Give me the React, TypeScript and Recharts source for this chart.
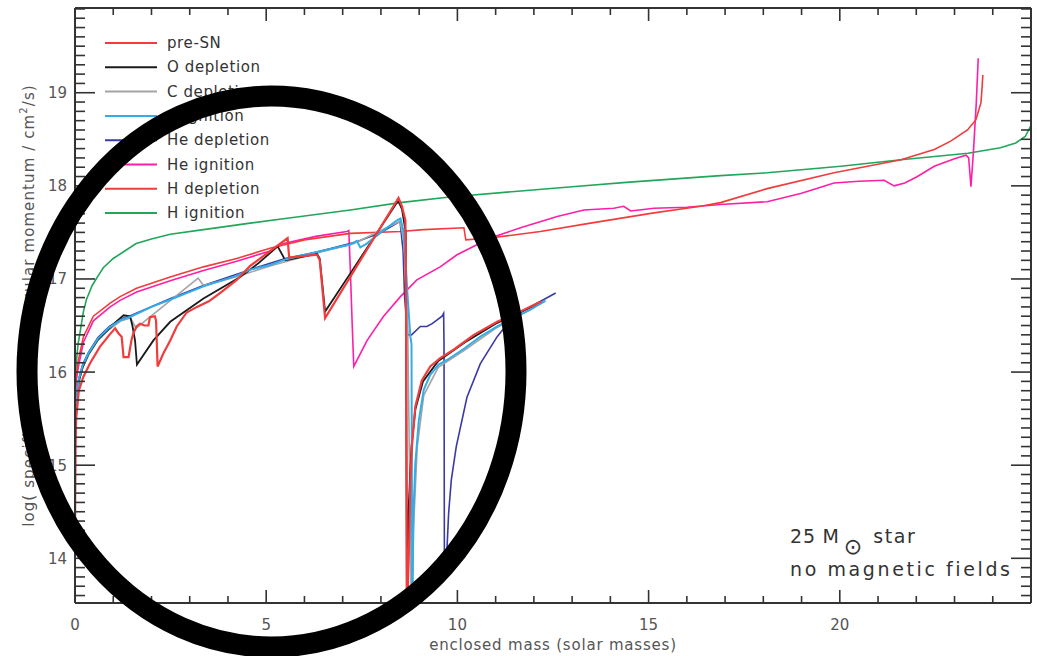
import React from 'react';
import { LineChart, Line, XAxis, YAxis, Legend, Label } from 'recharts';

type P = [number, number];

// ---- data (enclosed mass in solar masses, log specific angular momentum) ----
const H_IGNITION: P[] = [
  [0, 15.7], [0.02, 16.0], [0.04, 16.13], [0.08, 16.3], [0.13, 16.42], [0.22, 16.65], [0.3, 16.78],
  [0.45, 16.93], [0.6, 17.03], [0.74, 17.12], [1.0, 17.22], [1.3, 17.3], [1.6, 17.38], [2.0, 17.43],
  [2.49, 17.48], [3.36, 17.53], [4.58, 17.6], [5.5, 17.65], [7.2, 17.74], [8.5, 17.82], [9.8, 17.88],
  [11.5, 17.94], [13.0, 17.99], [14.5, 18.04], [16.88, 18.11], [18.1, 18.14], [20.03, 18.21],
  [21.6, 18.28], [23.35, 18.35], [24.2, 18.41], [24.6, 18.46], [24.85, 18.53], [25.0, 18.65],
];

const H_DEPLETION: P[] = [
  [0, 15.5], [0.01, 15.8], [0.03, 15.95], [0.09, 16.13], [0.22, 16.38], [0.48, 16.6], [0.92, 16.74],
  [1.18, 16.81], [1.61, 16.9], [2.49, 17.02], [3.36, 17.13], [4.23, 17.22], [5.1, 17.33], [6.0, 17.42],
  [7.2, 17.49], [8.51, 17.51], [9.12, 17.53], [10.17, 17.55], [10.22, 17.42], [10.86, 17.44],
  [12.17, 17.51], [13.48, 17.6], [15.14, 17.71], [16.36, 17.78], [16.88, 17.82], [18.1, 17.97],
  [19.85, 18.14], [21.6, 18.28], [22.47, 18.39], [22.9, 18.48], [23.34, 18.6], [23.56, 18.71],
  [23.69, 18.89], [23.72, 19.05], [23.74, 19.19],
];

const HE_IGNITION: P[] = [
  [0, 15.4], [0.01, 15.7], [0.03, 15.9], [0.09, 16.06], [0.22, 16.32], [0.48, 16.55], [0.92, 16.7],
  [1.18, 16.77], [1.61, 16.86], [2.49, 16.98], [3.36, 17.09], [4.23, 17.19], [5.1, 17.3], [5.45, 17.38],
  [6.33, 17.46], [7.11, 17.51], [7.16, 17.52], [7.2, 17.1], [7.25, 16.5], [7.29, 16.06], [7.64, 16.34],
  [8.07, 16.6], [8.51, 16.81], [8.94, 16.99], [9.55, 17.13], [9.99, 17.26], [10.86, 17.44],
  [11.65, 17.55], [12.61, 17.67], [13.31, 17.74], [14.09, 17.76], [14.35, 17.78], [14.53, 17.73],
  [15.14, 17.76], [16.0, 17.77], [16.88, 17.8], [18.1, 17.83], [19.0, 17.92], [19.85, 18.03],
  [20.5, 18.05], [21.16, 18.06], [21.42, 18.0], [21.7, 18.03], [22.03, 18.1], [22.47, 18.21],
  [23.0, 18.29], [23.3, 18.33], [23.37, 18.3], [23.43, 17.99], [23.5, 18.4], [23.57, 18.9], [23.62, 19.37],
];

const HE_DEPLETION: P[] = [
  [0, 15.3], [0.03, 15.65], [0.1, 15.93], [0.2, 16.08], [0.35, 16.21], [0.6, 16.37], [0.9, 16.49],
  [1.2, 16.57], [1.48, 16.61], [2.5, 16.79], [3.36, 16.93], [4.58, 17.1], [5.5, 17.22], [6.33, 17.29],
  [7.37, 17.4], [8.0, 17.5], [8.5, 17.62], [8.58, 17.3], [8.62, 16.8], [8.7, 16.4], [8.8, 16.4],
  [9.03, 16.49], [9.2, 16.49], [9.34, 16.52], [9.6, 16.6], [9.64, 16.63], [9.65, 16.3], [9.66, 13.9],
  [9.73, 14.12], [9.77, 14.48], [9.84, 14.84], [9.97, 15.2], [10.25, 15.73], [10.6, 16.09],
  [11.04, 16.38], [11.47, 16.6], [12.0, 16.72], [12.57, 16.85],
];

const C_IGNITION: P[] = [
  [0, 15.3], [0.03, 15.65], [0.1, 15.92], [0.2, 16.07], [0.35, 16.2], [0.6, 16.36], [0.9, 16.48],
  [1.2, 16.56], [1.48, 16.6], [2.0, 16.7], [2.5, 16.78], [3.36, 16.92], [4.2, 17.03], [4.58, 17.1],
  [5.1, 17.15], [5.5, 17.21], [6.33, 17.29], [7.2, 17.37], [7.37, 17.41], [7.46, 17.34], [7.63, 17.38],
  [8.0, 17.5], [8.42, 17.63], [8.51, 17.65], [8.6, 17.5], [8.7, 16.8], [8.77, 16.38], [8.8, 16.3],
  [8.82, 13.3], [8.85, 14.48], [8.9, 15.02], [8.99, 15.48], [9.12, 15.81], [9.29, 15.97], [9.51, 16.08],
  [9.73, 16.13], [10.17, 16.25], [10.6, 16.38], [11.04, 16.49], [11.47, 16.58], [11.91, 16.67], [12.3, 16.77],
];

const C_DEPLETION: P[] = [
  [0, 15.25], [0.03, 15.62], [0.1, 15.9], [0.2, 16.05], [0.35, 16.18], [0.6, 16.34], [0.9, 16.46],
  [1.2, 16.55], [1.45, 16.58], [1.6, 16.47], [1.8, 16.54], [2.5, 16.77], [3.22, 17.01], [3.36, 16.93],
  [4.2, 17.02], [5.1, 17.14], [6.33, 17.28], [7.3, 17.38], [8.5, 17.62], [8.6, 17.4], [8.7, 16.5],
  [8.8, 13.3], [8.85, 14.3], [8.95, 15.2], [9.12, 15.75], [9.5, 16.05], [10.2, 16.24], [11.0, 16.47], [12.3, 16.76],
];

const O_DEPLETION: P[] = [
  [0, 15.25], [0.03, 15.62], [0.1, 15.9], [0.2, 16.05], [0.35, 16.19], [0.6, 16.35], [0.9, 16.47],
  [1.1, 16.55], [1.27, 16.61], [1.44, 16.6], [1.5, 16.5], [1.57, 16.34], [1.62, 16.08], [2.05, 16.34],
  [2.49, 16.54], [3.36, 16.79], [4.32, 17.02], [4.8, 17.17], [5.3, 17.35], [5.5, 17.2], [6.33, 17.27],
  [6.4, 17.22], [6.54, 16.65], [7.2, 17.06], [8.45, 17.84], [8.55, 17.75], [8.65, 17.5], [8.68, 13.3],
  [8.72, 14.5], [8.8, 15.2], [8.9, 15.6], [9.1, 15.9], [9.5, 16.12], [10.2, 16.32], [11.0, 16.52], [12.2, 16.75],
];

const PRE_SN: P[] = [
  [0, 14.2], [0.005, 14.6], [0.015, 15.2], [0.03, 15.5], [0.1, 15.8], [0.22, 15.95], [0.4, 16.1],
  [0.65, 16.27], [0.9, 16.4], [1.05, 16.47], [1.13, 16.42], [1.22, 16.38], [1.27, 16.16], [1.4, 16.16],
  [1.48, 16.35], [1.53, 16.42], [1.61, 16.49], [1.7, 16.52], [1.82, 16.5], [1.92, 16.5], [1.96, 16.59],
  [2.09, 16.6], [2.12, 16.55], [2.16, 16.06], [2.31, 16.2], [2.49, 16.34], [2.66, 16.49], [2.92, 16.64],
  [3.19, 16.7], [3.5, 16.76], [3.8, 16.85], [4.23, 16.99], [4.58, 17.14], [5.1, 17.3], [5.56, 17.44],
  [5.6, 17.23], [6.33, 17.26], [6.4, 17.2], [6.54, 16.58], [8.46, 17.87], [8.55, 17.78], [8.64, 17.63],
  [8.66, 16.5], [8.68, 13.3], [8.74, 14.2], [8.77, 14.84], [8.81, 15.2], [8.9, 15.63], [9.07, 15.91],
  [9.29, 16.06], [9.55, 16.15], [9.9, 16.24], [10.43, 16.4], [11.04, 16.54], [11.65, 16.65], [12.2, 16.76],
];

const LEGEND_NAMES = ['pre-SN', 'O depletion', 'C depletion', 'C ignition', 'He depletion', 'He ignition', 'H depletion', 'H ignition'];
const X_MAJOR = [0, 5, 10, 15, 20];
const Y_MAJOR = [14, 15, 16, 17, 18, 19];
const X_DOMAIN: [number, number] = [0, 25];
const Y_DOMAIN: [number, number] = [13.52, 19.91];

const COLORS: Record<string, string> = {
  'pre-SN': '#f03c3c',
  'O depletion': '#1a1a1a',
  'C depletion': '#a4a4a4',
  'C ignition': '#34ace6',
  'He depletion': '#3a3aa6',
  'He ignition': '#ff1ea8',
  'H depletion': '#f03c3c',
  'H ignition': '#22a65a',
};

// drawing order (bottom first); 'mirror' series are plotted on the top/right mirror axes (same domains)
const SERIES: { name: string; data: P[]; width: number; mirror?: boolean }[] = [
  { name: 'H ignition', data: H_IGNITION, width: 1.6, mirror: true },
  { name: 'He ignition', data: HE_IGNITION, width: 1.6 },
  { name: 'H depletion', data: H_DEPLETION, width: 1.6 },
  { name: 'He depletion', data: HE_DEPLETION, width: 1.6 },
  { name: 'C depletion', data: C_DEPLETION, width: 1.6 },
  { name: 'O depletion', data: O_DEPLETION, width: 1.8 },
  { name: 'C ignition', data: C_IGNITION, width: 2.0 },
  { name: 'pre-SN', data: PRE_SN, width: 2.2 },
];

const X_TICKS = Array.from({ length: 25 }, (_, i) => i);
const Y_TICKS = Array.from({ length: 64 }, (_, i) => Math.round((13.6 + i * 0.1) * 10) / 10);

const FONT = '"DejaVu Sans", sans-serif';
const AXIS = '#333';
const TXT = '#555';

const isInt = (v: number) => Math.abs(v - Math.round(v)) < 1e-6;

const BottomTick = (props: any) => {
  const { x, y, payload } = props;
  const v = payload.value;
  const major = X_MAJOR.includes(v);
  return (
    <g>
      <line x1={x} y1={y} x2={x} y2={y - (major ? 13 : 7)} stroke={AXIS} strokeWidth={1.6} />
      {major && (
        <text x={x} y={y + 27} textAnchor="middle" fontSize={15} fill={TXT} fontFamily={FONT}>{v}</text>
      )}
    </g>
  );
};

const TopTick = (props: any) => {
  const { x, y, payload } = props;
  const major = X_MAJOR.includes(payload.value);
  return <line x1={x} y1={y} x2={x} y2={y + (major ? 13 : 7)} stroke={AXIS} strokeWidth={1.6} />;
};

const LeftTick = (props: any) => {
  const { x, y, payload } = props;
  const v = payload.value;
  const major = isInt(v) && Y_MAJOR.includes(Math.round(v));
  return (
    <g>
      <line x1={x} y1={y} x2={x + (major ? 20 : 10)} y2={y} stroke={AXIS} strokeWidth={1.6} />
      {major && (
        <text x={x - 8} y={y + 5.5} textAnchor="end" fontSize={15} fill={TXT} fontFamily={FONT}>{Math.round(v)}</text>
      )}
    </g>
  );
};

const RightTick = (props: any) => {
  const { x, y, payload } = props;
  const major = isInt(payload.value);
  return <line x1={x} y1={y} x2={x - (major ? 20 : 10)} y2={y} stroke={AXIS} strokeWidth={1.6} />;
};

const XTitle = (p: any) => {
  const vb = p.viewBox || { x: 75, y: 603, width: 956, height: 53 };
  return (
    <text x={vb.x + vb.width / 2} y={vb.y + 47} textAnchor="middle" fontSize={15} fill={TXT} fontFamily={FONT} letterSpacing={0.8}>
      enclosed mass (solar masses)
    </text>
  );
};

const YTitle = (p: any) => {
  const vb = p.viewBox || { x: 0, y: 8, width: 75, height: 595 };
  const cx = vb.x + 29;
  const cy = vb.y + vb.height / 2;
  return (
    <text x={cx} y={cy} transform={`rotate(-90 ${cx} ${cy})`} textAnchor="middle" dominantBaseline="central"
      fontSize={15} fill={TXT} fontFamily={FONT} letterSpacing={1.1}>
      log( specific equatorial angular momentum / cm<tspan dy={-6} fontSize={10}>2</tspan><tspan dy={6}>/s)</tspan>
    </text>
  );
};

const LegendBox = () => (
  <svg width={220} height={210} style={{ display: 'block' }}>
    {LEGEND_NAMES.map((n, i) => {
      const y = 15 + i * 24.3;
      return (
        <g key={n}>
          <line x1={10} x2={62} y1={y} y2={y} stroke={COLORS[n]} strokeWidth={2} />
          <text x={72} y={y + 5} fontSize={15} fill="#333" fontFamily={FONT} letterSpacing={0.6}>{n}</text>
        </g>
      );
    })}
  </svg>
);

export default function App() {
  return (
    <div style={{ position: 'absolute', left: 0, top: 0, width: 1037, height: 656, background: '#fff' }}>
      <LineChart width={1037} height={656} margin={{ top: 7, right: 5, bottom: 0, left: 0 }}>
        <XAxis xAxisId="b" type="number" dataKey="x" domain={X_DOMAIN} allowDataOverflow ticks={X_TICKS}
          interval={0} tickSize={0} tickMargin={0} tickLine={false} tick={<BottomTick />} height={53}
          axisLine={{ stroke: AXIS, strokeWidth: 2 }}>
          <Label content={<XTitle />} />
        </XAxis>
        <XAxis xAxisId="t" orientation="top" type="number" dataKey="x" domain={X_DOMAIN} allowDataOverflow ticks={X_TICKS}
          interval={0} tickSize={0} tickMargin={0} tickLine={false} tick={<TopTick />} height={1}
          axisLine={{ stroke: AXIS, strokeWidth: 2 }} />
        <YAxis yAxisId="l" type="number" domain={Y_DOMAIN} allowDataOverflow ticks={Y_TICKS} interval={0}
          tickSize={0} tickMargin={0} tickLine={false} tick={<LeftTick />} width={75}
          axisLine={{ stroke: AXIS, strokeWidth: 2 }}>
          <Label content={<YTitle />} />
        </YAxis>
        <YAxis yAxisId="r" orientation="right" type="number" domain={Y_DOMAIN} allowDataOverflow ticks={Y_TICKS}
          interval={0} tickSize={0} tickMargin={0} tickLine={false} tick={<RightTick />} width={1}
          axisLine={{ stroke: AXIS, strokeWidth: 2 }} />
        {SERIES.map((s) => (
          <Line key={s.name} xAxisId={s.mirror ? 't' : 'b'} yAxisId={s.mirror ? 'r' : 'l'} name={s.name} type="linear"
            data={s.data.map(([x, y]) => ({ x, y }))} dataKey="y" stroke={COLORS[s.name]}
            strokeWidth={s.width} dot={false} activeDot={false} isAnimationActive={false} />
        ))}
        <Legend layout="vertical" align="center" verticalAlign="middle" content={<LegendBox />}
          wrapperStyle={{ left: 95, top: 28, width: 220, height: 210 }} />
      </LineChart>
      <svg width={1037} height={656} style={{ position: 'absolute', left: 0, top: 0, pointerEvents: 'none' }}>
        <text x={790} y={543} fontSize={19} fill="#333" fontFamily={FONT} letterSpacing={0.8}>
          25 M<tspan dx={4} dy={11} fontSize={22} letterSpacing={0}>⊙</tspan><tspan dx={11} dy={-11} letterSpacing={1.6}>star</tspan>
        </text>
        <text x={790} y={576} fontSize={19} fill="#333" fontFamily={FONT} letterSpacing={2.6}>no magnetic fields</text>
        <ellipse cx={271.5} cy={371.5} rx={244.5} ry={275.5} fill="none" stroke="#000" strokeWidth={21} />
      </svg>
    </div>
  );
}
